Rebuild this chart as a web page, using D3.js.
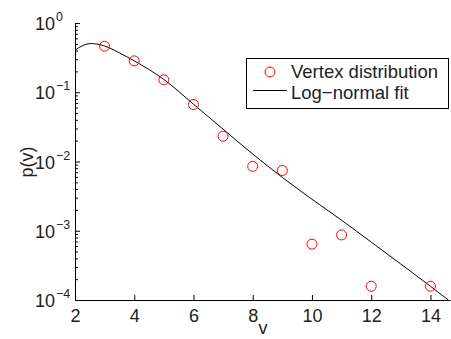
<!DOCTYPE html>
<html>
<head>
<meta charset="utf-8">
<script src="https://cdn.jsdelivr.net/npm/d3@7"></script>
<style>
  body { margin: 0; background: #fff; }
  text { font-family: "Liberation Sans", Arial, Helvetica, sans-serif; fill: #222; }
</style>
</head>
<body>
<div id="chart"></div>
<script>
const chartWidth = 451
const chartHeight = 339

// vertex distribution (points)
const vertexV = [3, 4, 5, 6, 7, 8, 9, 10, 11, 12, 14]
const vertexP = [0.462, 0.284, 0.151, 0.0665, 0.0232, 0.0085, 0.0074, 0.00064, 0.00087, 0.000158, 0.000158]

// log-normal fit
const fitV = [2, 2.25, 2.55, 3, 3.5, 4, 5, 6, 7, 8, 9, 10, 11, 12, 13, 14, 14.6]
const fitP = [0.405, 0.47, 0.505, 0.465, 0.37, 0.284, 0.153, 0.0672, 0.0293, 0.0128, 0.0059, 0.00285, 0.00142, 0.000686, 0.00033, 0.000158, 0.0001]

const xTicks = [2, 4, 6, 8, 10, 12, 14]
const yDecades = [0, -1, -2, -3, -4]

const svg = d3.select('#chart')
    .append('svg')
    .attr('width', chartWidth)
    .attr('height', chartHeight)

const xScale = d3.scaleLinear()
    .domain([2, 14.66])
    .range([75, 450])

const yScale = d3.scaleLog()
    .domain([1e-4, 1])
    .range([300, 23])

svg.append('clipPath')
    .attr('id', 'plot-clip')
    .append('rect')
    .attr('x', 75)
    .attr('y', 23)
    .attr('width', 376)
    .attr('height', 278)

// fit curve
const line = d3.line()
    .x((d, i) => xScale(fitV[i]))
    .y(d => yScale(d))
    .curve(d3.curveMonotoneX)

svg.append('path')
    .attr('clip-path', 'url(#plot-clip)')
    .attr('d', line(fitP))
    .attr('fill', 'none')
    .attr('stroke', '#000')
    .attr('stroke-width', 1)

// points
svg.selectAll('circle.pt')
    .data(vertexP)
    .enter()
    .append('circle')
    .attr('class', 'pt')
    .attr('cx', (d, i) => xScale(vertexV[i]))
    .attr('cy', d => yScale(d))
    .attr('r', 5)
    .attr('fill', 'none')
    .attr('stroke', '#ff0000')
    .attr('stroke-width', 1)

// x axis
const xAxis = d3.axisBottom(xScale)
    .tickValues(xTicks)
    .tickSizeInner(-5)
    .tickSizeOuter(0)
    .tickFormat(d3.format('d'))
const gx = svg.append('g')
    .attr('transform', `translate(0, 300)`)
    .call(xAxis)
gx.selectAll('text')
    .attr('y', 21.5)
    .attr('dy', null)
    .style('font-size', '18px')
    .attr('fill', '#222')

// y axis minor ticks
const minor = []
yDecades.slice(1).forEach(e => {
    for (let k = 2; k <= 9; k++) minor.push(k * Math.pow(10, e))
})
svg.append('g')
    .attr('transform', `translate(75, 0)`)
    .call(d3.axisLeft(yScale).tickValues(minor).tickSizeInner(-3).tickSizeOuter(0).tickFormat(''))

// y axis major ticks
const gy = svg.append('g')
    .attr('transform', `translate(75, 0)`)
    .call(d3.axisLeft(yScale)
        .tickValues(yDecades.map(e => Math.pow(10, e)))
        .tickSizeInner(-5)
        .tickSizeOuter(0)
        .tickFormat(''))

// y tick labels 10^n
yDecades.forEach(e => {
    const t = svg.append('text')
        .attr('x', 35)
        .attr('y', yScale(Math.pow(10, e)) + 7)
        .style('font-size', '18px')
    t.append('tspan').text('10')
    t.append('tspan')
        .attr('dy', -9)
        .attr('dx', 1)
        .style('font-size', '12.5px')
        .text(e === 0 ? '0' : '\u2212' + Math.abs(e))
})

// axis titles
svg.append('text')
    .attr('x', 263)
    .attr('y', 334)
    .attr('text-anchor', 'middle')
    .style('font-size', '18px')
    .text('v')

svg.append('text')
    .attr('transform', 'translate(33, 162) rotate(-90)')
    .attr('text-anchor', 'middle')
    .style('font-size', '18px')
    .text('p(v)')

// legend
const legend = svg.append('g')
legend.append('rect')
    .attr('x', 246.5)
    .attr('y', 58.5)
    .attr('width', 202)
    .attr('height', 50)
    .attr('fill', '#fff')
    .attr('stroke', '#000')
    .attr('stroke-width', 1)
legend.append('circle')
    .attr('cx', 270)
    .attr('cy', 72)
    .attr('r', 5)
    .attr('fill', 'none')
    .attr('stroke', '#ff0000')
legend.append('line')
    .attr('x1', 253)
    .attr('x2', 287)
    .attr('y1', 90.5)
    .attr('y2', 90.5)
    .attr('stroke', '#000')
legend.append('text')
    .attr('x', 291)
    .attr('y', 78)
    .style('font-size', '18.5px')
    .text('Vertex distribution')
legend.append('text')
    .attr('x', 291)
    .attr('y', 98.5)
    .style('font-size', '18.5px')
    .text('Log\u2212normal fit')
</script>
</body>
</html>
